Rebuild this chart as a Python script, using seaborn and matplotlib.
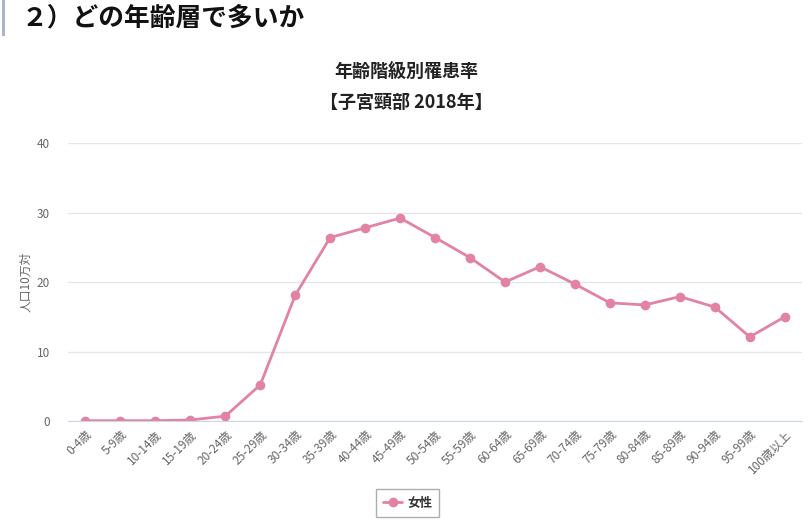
import pandas as pd
import matplotlib.pyplot as plt
import seaborn as sns

# 年齢階級と罹患率（人口10万対）
age_groups = ['0-4歳', '5-9歳', '10-14歳', '15-19歳', '20-24歳', '25-29歳', '30-34歳',
              '35-39歳', '40-44歳', '45-49歳', '50-54歳', '55-59歳', '60-64歳', '65-69歳',
              '70-74歳', '75-79歳', '80-84歳', '85-89歳', '90-94歳', '95-99歳', '100歳以上']
female_rate = [0.05, 0.05, 0.05, 0.15, 0.7, 5.2, 18.1, 26.4, 27.8, 29.2, 26.4,
               23.5, 20.0, 22.2, 19.7, 17.0, 16.7, 17.9, 16.4, 12.1, 15.0]
y_ticks = [0, 10, 20, 30, 40]

df = pd.DataFrame({'年齢階級': age_groups, '罹患率': female_rate, '性別': '女性'})

sns.set_style('white')
plt.rcParams['font.family'] = ['Noto Sans CJK JP', 'DejaVu Sans']

pink = '#e283a4'
fig = plt.figure(figsize=(8.12, 5.32), dpi=100)
ax = fig.add_axes([0.0837, 0.2086, 0.9043, 0.5226])

sns.lineplot(data=df, x='年齢階級', y='罹患率', hue='性別', palette=[pink],
             marker='o', markersize=7, markeredgewidth=0, linewidth=2,
             sort=False, ax=ax, legend=False)

ax.set_xlim(-0.5, len(age_groups) - 0.5)
ax.set_ylim(0, 40)
ax.set_yticks(y_ticks)
ax.grid(axis='y', color='#e6e6e6', linewidth=1)
ax.set_axisbelow(True)
for side in ['top', 'right', 'left']:
    ax.spines[side].set_visible(False)
ax.spines['bottom'].set_color('#ccd6eb')
ax.tick_params(axis='both', length=0, labelsize=8.5, colors='#666666')
ax.tick_params(axis='y', pad=13)
ax.tick_params(axis='x', pad=5)
plt.setp(ax.get_xticklabels(), rotation=45, ha='right', rotation_mode='anchor')
ax.set_xlabel('')
ax.set_ylabel('人口10万対', fontsize=8.5, color='#666666', labelpad=3)

# 見出し
fig.text(0.027, 0.966, '２）どの年齢層で多いか', fontsize=18.5, fontweight='bold',
         color='#111111', va='center', ha='left')
fig.add_artist(plt.Rectangle((0.002, 0.932), 0.004, 0.068, transform=fig.transFigure,
                             color='#a8b4cc', lw=0))

# グラフタイトル
fig.text(0.5, 0.865, '年齢階級別罹患率', fontsize=13, fontweight='bold',
         ha='center', va='center', color='#222222')
fig.text(0.5, 0.808, '【子宮頸部 2018年】', fontsize=13, fontweight='bold',
         ha='center', va='center', color='#222222')

handle = plt.Line2D([], [], color=pink, marker='o', markersize=7,
                    markeredgewidth=0, linewidth=2)
leg = fig.legend([handle], ['女性'], loc='center', bbox_to_anchor=(0.502, 0.054),
                 frameon=True, fancybox=False, fontsize=9, handlelength=1.5,
                 borderpad=0.6, handletextpad=0.4)
leg.get_frame().set_edgecolor('#999999')
leg.get_frame().set_linewidth(1)
for t in leg.get_texts():
    t.set_fontweight('bold')
    t.set_color('#333333')

fig.savefig('out.png', dpi=100)
